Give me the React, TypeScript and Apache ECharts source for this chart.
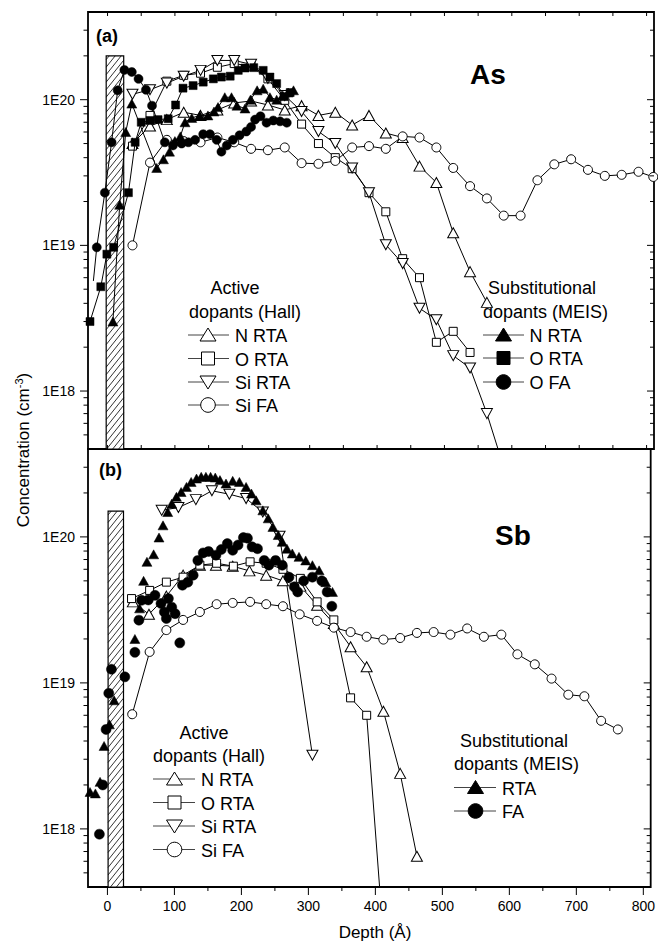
import React, { useEffect, useRef } from 'react';
import * as echarts from 'echarts';

const FONT = '"Liberation Sans", Arial, Helvetica, sans-serif';

// ---- axes ----
const X_MIN = -29;
const X_MAX = 811;
const Y_MIN = 4e17;
const Y_MAX = 4e20;
const xMajorTicks = [0, 100, 200, 300, 400, 500, 600, 700, 800];
const xMinorTicks = [50, 150, 250, 350, 450, 550, 650, 750];
const yMajorTicks = [1e18, 1e19, 1e20];
const yMinorTicks = [
  5e17, 6e17, 7e17, 8e17, 9e17,
  2e18, 3e18, 4e18, 5e18, 6e18, 7e18, 8e18, 9e18,
  2e19, 3e19, 4e19, 5e19, 6e19, 7e19, 8e19, 9e19,
  2e20, 3e20,
];

// hatched oxide column: [x start, x end, top concentration]
const hatchA = [-2, 24, 2e20];
const hatchB = [1, 24, 1.5e20];

// ---- panel (a) As : active dopants (Hall) ----
const aNRTA_x = [37, 63, 88, 113, 138, 163, 188, 213, 238, 263, 288, 313, 338, 363, 388, 413, 438, 463, 488, 513, 538, 563];
const aNRTA_y = [5.0e19, 6.6e19, 7.3e19, 8.2e19, 7.8e19, 8.5e19, 9.5e19, 9.8e19, 9.2e19, 8.5e19, 9.1e19, 7.8e19, 8.2e19, 6.7e19, 7.8e19, 5.9e19, 5.5e19, 3.5e19, 2.7e19, 1.22e19, 6.6e18, 4.06e18];
const aORTA_x = [37, 63, 88, 113, 138, 163, 188, 213, 238, 263, 288, 313, 338, 363, 388, 413, 438, 463, 488, 513, 538];
const aORTA_y = [4.8e19, 7.8e19, 1.34e20, 1.47e20, 1.52e20, 1.67e20, 1.77e20, 1.7e20, 1.39e20, 9.9e19, 6.8e19, 5.0e19, 4.0e19, 3.36e19, 2.3e19, 1.7e19, 8.1e18, 6.0e18, 2.16e18, 2.57e18, 1.84e18];
const aSiRTA_x = [37, 63, 88, 113, 138, 163, 188, 213, 238, 263, 288, 313, 338, 363, 388, 413, 438, 463, 488, 513, 538, 563, 588];
const aSiRTA_y = [1.09e20, 1.17e20, 1.3e20, 1.45e20, 1.59e20, 1.86e20, 1.86e20, 1.75e20, 1.4e20, 1.07e20, 8.3e19, 6.05e19, 5.0e19, 3.4e19, 2.3e19, 1.01e19, 7.5e18, 3.7e18, 3.09e18, 1.75e18, 1.44e18, 7.0e17, 3.0e17];
const aSiFA_x = [37, 63, 88, 113, 138, 163, 188, 213, 238, 263, 288, 313, 338, 363, 388, 413, 438, 463, 488, 513, 538, 563, 588, 613, 638, 663, 688, 713, 738, 763, 788, 810];
const aSiFA_y = [1.0e19, 3.7e19, 5.3e19, 5.2e19, 5.1e19, 5.5e19, 5.1e19, 4.6e19, 4.5e19, 4.7e19, 3.67e19, 3.63e19, 3.8e19, 4.7e19, 4.8e19, 4.6e19, 5.6e19, 5.5e19, 4.7e19, 3.4e19, 2.55e19, 2.1e19, 1.6e19, 1.6e19, 2.8e19, 3.6e19, 3.9e19, 3.3e19, 3.0e19, 3.05e19, 3.2e19, 2.95e19];

// ---- panel (a) As : substitutional dopants (MEIS) ----
const aMNRTA_x = [8, 18, 27, 36, 73, 83, 92, 100, 108, 115, 125, 137, 149, 158, 164, 174, 184, 192, 204, 212, 222, 231, 241, 251, 260, 268, 276];
const aMNRTA_y = [3.0e18, 1.9e19, 6.0e19, 9.4e19, 3.4e19, 3.9e19, 4.4e19, 5.2e19, 5.6e19, 7.0e19, 7.5e19, 7.8e19, 7.8e19, 8.3e19, 8.9e19, 1.04e20, 1.04e20, 9.1e19, 8.7e19, 1.0e20, 1.16e20, 1.19e20, 1.04e20, 1.0e20, 1.07e20, 1.12e20, 1.16e20];
const aMORTA_x = [-26, -10, -1, 9, 31, 41, 50, 63, 75, 90, 101, 112, 127, 142, 157, 169, 182, 194, 204, 217, 231, 241, 251, 262, 271];
const aMORTA_y = [3.0e18, 5.2e18, 8.7e18, 9.7e18, 2.3e19, 5.1e19, 7.0e19, 7.2e19, 7.3e19, 7.4e19, 9.2e19, 1.2e20, 1.25e20, 1.32e20, 1.39e20, 1.43e20, 1.45e20, 1.59e20, 1.65e20, 1.66e20, 1.59e20, 1.43e20, 1.29e20, 1.05e20, 1.12e20];
const aMOFA_x = [-21, -16, -4, 6, 15, 25, 36, 46, 57, 66, 85, 97, 110, 120, 130, 142, 152, 162, 169, 177, 186, 196, 206, 213, 219, 227, 236, 246, 256, 266];
const aMOFA_y = [5.7e18, 9.7e18, 2.3e19, 5.1e19, 1.16e20, 1.6e20, 1.55e20, 1.39e20, 1.17e20, 9.1e19, 5.1e19, 4.85e19, 5.0e19, 5.1e19, 5.3e19, 5.8e19, 5.8e19, 5.3e19, 4.4e19, 4.85e19, 5.3e19, 5.7e19, 6.05e19, 6.5e19, 7.3e19, 7.7e19, 6.95e19, 7.2e19, 7.1e19, 6.95e19];

// ---- panel (b) Sb : active dopants (Hall) ----
const bNRTA_x = [38, 62, 88, 113, 138, 162, 187, 212, 237, 262, 288, 313, 338, 363, 387, 412, 437, 462];
const bNRTA_y = [3.59e19, 2.95e19, 3.93e19, 5.47e19, 6.4e19, 6.4e19, 6.3e19, 5.85e19, 5.47e19, 5.0e19, 4.6e19, 3.4e19, 2.55e19, 1.77e19, 1.29e19, 6.4e18, 2.4e18, 6.5e17];
const bORTA_x = [36, 63, 88, 113, 138, 163, 188, 213, 237, 262, 288, 313, 338, 363, 387, 412];
const bORTA_y = [3.78e19, 4.3e19, 4.9e19, 5.3e19, 6.4e19, 6.6e19, 6.3e19, 6.75e19, 6.6e19, 6.0e19, 5.2e19, 3.59e19, 2.7e19, 7.9e18, 6.0e18, 1.8e17];
const bSiRTA_x = [81, 106, 132, 156, 182, 207, 232, 257, 306];
const bSiRTA_y = [1.52e20, 1.59e20, 1.8e20, 2.07e20, 1.96e20, 1.83e20, 1.48e20, 1.01e20, 3.2e18];
const bSiFA_x = [37, 63, 88, 113, 138, 163, 187, 213, 237, 262, 287, 313, 338, 363, 387, 412, 437, 462, 487, 512, 537, 562, 588, 612, 638, 663, 688, 712, 737, 762];
const bSiFA_y = [6.1e18, 1.63e19, 2.3e19, 2.7e19, 3.06e19, 3.46e19, 3.53e19, 3.59e19, 3.46e19, 3.35e19, 2.95e19, 2.66e19, 2.39e19, 2.23e19, 2.07e19, 1.98e19, 2.03e19, 2.2e19, 2.23e19, 2.14e19, 2.36e19, 2.07e19, 2.14e19, 1.57e19, 1.34e19, 1.07e19, 8.3e18, 8.1e18, 5.5e18, 4.8e18];

// ---- panel (b) Sb : substitutional dopants (MEIS) ----
const bMRTA_x = [-26, -18, -11, -5, 3, 10, 41, 48, 54, 59, 69, 77, 83, 90, 96, 103, 110, 118, 125, 133, 140, 147, 154, 161, 168, 177, 187, 197, 207, 215, 222, 232, 240, 247, 255, 261, 268, 276, 286, 296, 306, 316, 326, 336];
const bMRTA_y = [1.79e18, 1.75e18, 2.1e18, 3.7e18, 5.2e18, 7.6e18, 2.0e19, 3.24e19, 5.0e19, 6.75e19, 7.6e19, 9.9e19, 1.2e20, 1.48e20, 1.69e20, 1.88e20, 2.03e20, 2.2e20, 2.38e20, 2.51e20, 2.58e20, 2.58e20, 2.58e20, 2.55e20, 2.45e20, 2.32e20, 2.42e20, 2.38e20, 2.2e20, 1.98e20, 1.78e20, 1.52e20, 1.34e20, 1.17e20, 1.03e20, 9.25e19, 8.3e19, 7.7e19, 7.3e19, 6.9e19, 6.4e19, 5.9e19, 4.9e19, 4.2e19];
const bMFA_x = [-12, -7, -2, 2, 6, 26, 41, 47, 51, 61, 71, 80, 85, 88, 91, 96, 101, 108, 112, 120, 128, 135, 143, 151, 162, 170, 179, 187, 195, 203, 209, 216, 224, 234, 241, 251, 261, 271, 279, 284, 293, 306, 320, 328, 335];
const bMFA_y = [9.2e17, 2.0e18, 4.8e18, 8.5e18, 1.24e19, 1.1e19, 1.62e19, 2.69e19, 3.68e19, 3.7e19, 3.98e19, 3.5e19, 3.06e19, 2.76e19, 3.78e19, 3.3e19, 2.98e19, 1.88e19, 4.67e19, 4.9e19, 5.47e19, 6.9e19, 7.77e19, 7.95e19, 7.5e19, 8.2e19, 9.0e19, 8.1e19, 8.8e19, 9.9e19, 9.8e19, 8.55e19, 8.3e19, 6.9e19, 6.4e19, 6.9e19, 6.4e19, 5.3e19, 4.55e19, 4.2e19, 5.0e19, 5.3e19, 5.0e19, 4.2e19, 3.35e19];

const zip = (xs: number[], ys: number[]) => xs.map((x, i) => [x, ys[i]]);

const openItem = { color: '#ffffff', borderColor: '#000000', borderWidth: 1 };
const fillItem = { color: '#000000', borderColor: '#000000', borderWidth: 0.5 };

function hallSeries(name: string, xs: number[], ys: number[], axis: number, symbol: string, size: any, rotate = 0) {
  return {
    type: 'line', name, xAxisIndex: axis, yAxisIndex: axis, data: zip(xs, ys),
    symbol, symbolSize: size, symbolRotate: rotate, showAllSymbol: true,
    lineStyle: { color: '#000', width: 1 }, itemStyle: openItem, z: 3, clip: true,
  };
}
function meisSeries(name: string, xs: number[], ys: number[], axis: number, symbol: string, size: any, withLine: boolean) {
  return {
    type: 'line', name, xAxisIndex: axis, yAxisIndex: axis, data: zip(xs, ys),
    symbol, symbolSize: size, showAllSymbol: true,
    lineStyle: { color: '#000', width: withLine ? 1 : 0, opacity: withLine ? 1 : 0 },
    itemStyle: fillItem, z: 4, clip: true,
  };
}

function hatchRender(params: any, api: any) {
  const x0 = api.value(0), x1 = api.value(1), yt = api.value(2);
  const pTop = api.coord([x0, yt]);
  const pBot = api.coord([x1, Y_MIN]);
  const xl = pTop[0], xr = pBot[0], yT = pTop[1], yB = pBot[1];
  const w = xr - xl;
  const k = 1.25, step = 7.5;
  const children: any[] = [{
    type: 'rect', shape: { x: xl, y: yT, width: w, height: yB - yT },
    style: { fill: '#fff', stroke: '#000', lineWidth: 1.2 },
  }];
  for (let c = yT + step / 2; c < yB + k * w; c += step) {
    let xs = xl, ys = c;
    if (ys > yB) { xs = xl + (c - yB) / k; ys = yB; }
    let xe = xr, ye = c - k * w;
    if (ye < yT) { xe = xl + (c - yT) / k; ye = yT; }
    if (xe <= xs) continue;
    children.push({ type: 'line', shape: { x1: xs, y1: ys, x2: xe, y2: ye }, style: { stroke: '#000', lineWidth: 0.8 } });
  }
  return { type: 'group', children };
}

function hatchSeries(vals: number[], axis: number) {
  return {
    type: 'custom', xAxisIndex: axis, yAxisIndex: axis, data: [vals],
    encode: { x: [0, 1], y: [2] }, renderItem: hatchRender, z: 1, silent: true, clip: false,
  };
}

const logLabel = (v: number) => {
  const e = Math.log10(v);
  return Math.abs(e - Math.round(e)) < 1e-6 ? '1E' + Math.round(e) : '';
};

function txt(x: number, y: number, text: string, opts: any = {}) {
  return {
    type: 'text', x, y, silent: true,
    style: {
      text, fill: '#000', fontFamily: FONT, fontSize: opts.size || 18, fontWeight: opts.weight || 'normal',
      textAlign: opts.align || 'left', textVerticalAlign: 'middle', verticalAlign: 'middle',
    },
  };
}

function legendItem(cx: number, lx0: number, lx1: number, labelX: number, cy: number, kind: string, filled: boolean, label: string) {
  const fill = filled ? '#000' : '#fff';
  const st = { fill, stroke: '#000', lineWidth: 1 };
  const els: any[] = [{ type: 'line', silent: true, shape: { x1: lx0, y1: cy, x2: lx1, y2: cy }, style: { stroke: '#444', lineWidth: 1 } }];
  if (kind === 'up') els.push({ type: 'polygon', silent: true, shape: { points: [[cx - 8, cy + 6], [cx + 8, cy + 6], [cx, cy - 7]] }, style: st });
  if (kind === 'down') els.push({ type: 'polygon', silent: true, shape: { points: [[cx - 8, cy - 6], [cx + 8, cy - 6], [cx, cy + 7]] }, style: st });
  if (kind === 'sq') els.push({ type: 'rect', silent: true, shape: { x: cx - 6.5, y: cy - 6.5, width: 13, height: 13 }, style: st });
  if (kind === 'ci') els.push({ type: 'circle', silent: true, shape: { cx, cy, r: 7.3 }, style: st });
  els.push(txt(labelX, cy + 1, label));
  return els;
}

function staticGraphics() {
  const g: any[] = [];
  // panel labels
  g.push(txt(96, 36, '(a)', { size: 18, weight: 'bold' }));
  g.push(txt(99, 470, '(b)', { size: 18, weight: 'bold' }));
  g.push(txt(488, 74, 'As', { size: 28, weight: 'bold', align: 'center' }));
  g.push(txt(513, 535, 'Sb', { size: 28, weight: 'bold', align: 'center' }));
  // axis titles
  g.push({
    type: 'text', x: 23, y: 450, rotation: Math.PI / 2, silent: true,
    style: {
      text: 'Concentration (cm{sup|-3})', fill: '#000', fontFamily: FONT, fontSize: 17,
      textAlign: 'center', textVerticalAlign: 'middle', verticalAlign: 'middle',
      rich: { sup: { fontFamily: FONT, fontSize: 11, verticalAlign: 'top', fill: '#000', padding: [0, 0, 8, 0] } },
    },
  });
  g.push(txt(375, 932, 'Depth (Å)', { size: 17, align: 'center' }));

  // legend (a) Hall
  g.push(txt(235, 288, 'Active', { align: 'center' }));
  g.push(txt(189, 312, 'dopants (Hall)'));
  g.push(...legendItem(208, 188, 229, 235, 335, 'up', false, 'N RTA'));
  g.push(...legendItem(208, 188, 229, 235, 358.5, 'sq', false, 'O RTA'));
  g.push(...legendItem(208, 188, 229, 235, 382, 'down', false, 'Si RTA'));
  g.push(...legendItem(208, 188, 229, 235, 405, 'ci', false, 'Si FA'));
  // legend (a) MEIS
  g.push(txt(488, 288, 'Substitutional'));
  g.push(txt(483, 312, 'dopants (MEIS)'));
  g.push(...legendItem(503.5, 483, 524, 529.5, 335, 'up', true, 'N RTA'));
  g.push(...legendItem(503.5, 483, 524, 529.5, 358, 'sq', true, 'O RTA'));
  g.push(...legendItem(503.5, 483, 524, 529.5, 382, 'ci', true, 'O FA'));
  // legend (b) Hall
  g.push(txt(204, 733, 'Active', { align: 'center' }));
  g.push(txt(153, 756, 'dopants (Hall)'));
  g.push(...legendItem(174.5, 153, 195, 201, 779, 'up', false, 'N RTA'));
  g.push(...legendItem(174.5, 153, 195, 201, 802.5, 'sq', false, 'O RTA'));
  g.push(...legendItem(174.5, 153, 195, 201, 826, 'down', false, 'Si RTA'));
  g.push(...legendItem(174.5, 153, 195, 201, 849.5, 'ci', false, 'Si FA'));
  // legend (b) MEIS
  g.push(txt(460, 741, 'Substitutional'));
  g.push(txt(454, 764, 'dopants (MEIS)'));
  g.push(...legendItem(475.5, 454, 496, 502, 787.5, 'up', true, 'RTA'));
  g.push(...legendItem(475.5, 454, 496, 502, 811, 'ci', true, 'FA'));
  return g;
}

function buildOption() {
  const grids = [
    { left: 88, top: 12, width: 566, height: 437, show: true, borderColor: '#000', borderWidth: 1.8, backgroundColor: 'transparent' },
    { left: 88, top: 449, width: 566, height: 438, show: true, borderColor: '#000', borderWidth: 1.8, backgroundColor: 'transparent' },
  ];
  const xAxis = [0, 1].map((gi) => ({
    type: 'value', gridIndex: gi, min: X_MIN, max: X_MAX, splitNumber: 8,
    axisLine: { show: false }, axisTick: { show: false }, splitLine: { show: false },
    axisLabel: {
      show: gi === 1, showMinLabel: false, showMaxLabel: false, margin: 12,
      fontFamily: FONT, fontSize: 14, color: '#000',
    },
  }));
  const yAxis = [0, 1].map((gi) => ({
    type: 'log', logBase: 10, gridIndex: gi, min: Y_MIN, max: Y_MAX,
    axisLine: { show: false }, axisTick: { show: false }, splitLine: { show: false },
    axisLabel: {
      showMinLabel: false, showMaxLabel: false, margin: 13, formatter: logLabel,
      fontFamily: FONT, fontSize: 14, color: '#000',
    },
  }));
  const series: any[] = [
    hatchSeries(hatchA, 0),
    hatchSeries(hatchB, 1),
    hallSeries('N RTA (Hall, As)', aNRTA_x, aNRTA_y, 0, 'triangle', [11, 10]),
    hallSeries('O RTA (Hall, As)', aORTA_x, aORTA_y, 0, 'rect', 8),
    hallSeries('Si RTA (Hall, As)', aSiRTA_x, aSiRTA_y, 0, 'triangle', [11, 10], 180),
    hallSeries('Si FA (Hall, As)', aSiFA_x, aSiFA_y, 0, 'circle', 9),
    meisSeries('N RTA (MEIS, As)', aMNRTA_x, aMNRTA_y, 0, 'triangle', [10, 9], true),
    meisSeries('O RTA (MEIS, As)', aMORTA_x, aMORTA_y, 0, 'rect', 8, true),
    {
      ...meisSeries('O FA (MEIS, As)', aMOFA_x, aMOFA_y, 0, 'circle', 9, true),
      data: zip(aMOFA_x, aMOFA_y).map((p, i) => (i === 0 ? { value: p, symbol: 'none' } : p)),
    },
    hallSeries('N RTA (Hall, Sb)', bNRTA_x, bNRTA_y, 1, 'triangle', [11, 10]),
    hallSeries('O RTA (Hall, Sb)', bORTA_x, bORTA_y, 1, 'rect', 8),
    hallSeries('Si RTA (Hall, Sb)', bSiRTA_x, bSiRTA_y, 1, 'triangle', [11, 10], 180),
    hallSeries('Si FA (Hall, Sb)', bSiFA_x, bSiFA_y, 1, 'circle', 9),
    meisSeries('RTA (MEIS, Sb)', bMRTA_x, bMRTA_y, 1, 'triangle', [10, 9], false),
    meisSeries('FA (MEIS, Sb)', bMFA_x, bMFA_y, 1, 'circle', 10, false),
  ];
  return {
    animation: false,
    backgroundColor: '#ffffff',
    textStyle: { fontFamily: FONT },
    grid: grids, xAxis, yAxis, series,
  };
}

function tickGraphics(chart: any) {
  const g: any[] = [];
  const line = (x1: number, y1: number, x2: number, y2: number) =>
    g.push({ type: 'line', silent: true, z: 10, shape: { x1, y1, x2, y2 }, style: { stroke: '#000', lineWidth: 1 } });
  for (let gi = 0; gi < 2; gi++) {
    const xPix = (v: number) => chart.convertToPixel({ xAxisIndex: gi }, v);
    const yPix = (v: number) => chart.convertToPixel({ yAxisIndex: gi }, v);
    const left = xPix(X_MIN), right = xPix(X_MAX);
    const top = yPix(Y_MAX), bottom = yPix(Y_MIN);
    // y ticks: left outward, right inward
    yMajorTicks.forEach((v) => { const y = yPix(v); line(left - 8, y, left, y); line(right - 7, y, right, y); });
    yMinorTicks.forEach((v) => { const y = yPix(v); line(left - 4.5, y, left, y); line(right - 4, y, right, y); });
    // x ticks
    const all = xMajorTicks.concat(xMinorTicks);
    if (gi === 0) {
      all.forEach((v) => { const x = xPix(v); line(x, top, x, top + 4); line(x, bottom - 4, x, bottom); });
    } else {
      xMajorTicks.forEach((v) => { const x = xPix(v); line(x, bottom, x, bottom + 8); });
      xMinorTicks.forEach((v) => { const x = xPix(v); line(x, bottom, x, bottom + 4); });
    }
  }
  return g;
}

export default function App() {
  const ref = useRef<HTMLDivElement>(null);
  useEffect(() => {
    if (!ref.current) return;
    const chart = echarts.init(ref.current, null, { renderer: 'svg' });
    chart.setOption(buildOption() as any);
    chart.setOption({ graphic: [...staticGraphics(), ...tickGraphics(chart)] } as any);
    return () => chart.dispose();
  }, []);
  return (
    <div
      ref={ref}
      style={{ position: 'fixed', left: 0, top: 0, width: 658, height: 943, background: '#fff' }}
    />
  );
}
